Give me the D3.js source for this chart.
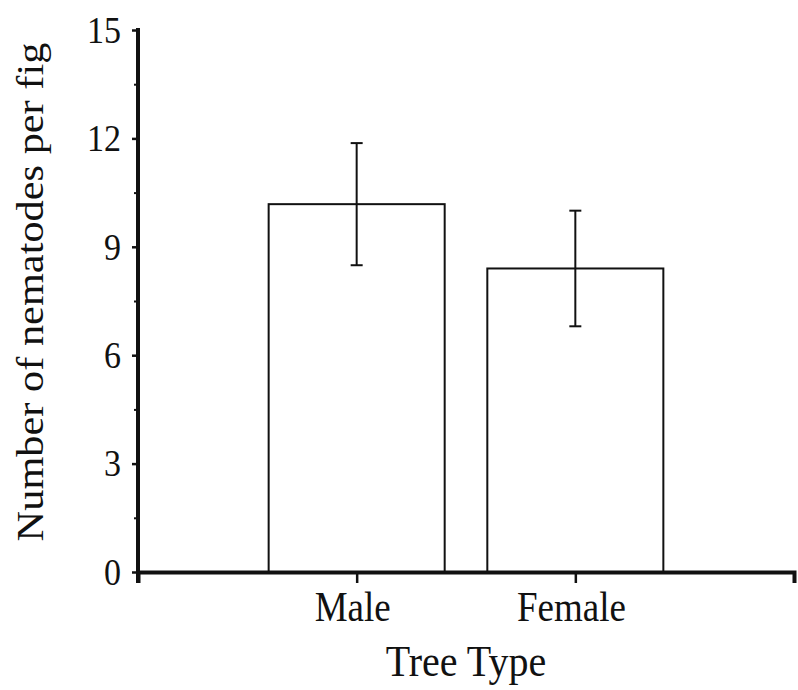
<!DOCTYPE html>
<html>
<head>
<meta charset="utf-8">
<script src="https://cdn.jsdelivr.net/npm/d3@7"></script>
<style>
  html, body { margin: 0; padding: 0; background: #fff; }
  svg { display: block; }
  text { font-family: "Liberation Serif", "Times New Roman", serif; fill: #111; }
</style>
</head>
<body>
<svg id="chart" width="798" height="690"></svg>
<script>
// ---- data ----
const categories = ["Male", "Female"];
const means = [10.18, 8.40];
const errors = [1.69, 1.60];
const yTicks = [0, 3, 6, 9, 12, 15];
const yMinorTicks = [1.5, 4.5, 7.5, 10.5, 13.5];
const xTitle = "Tree Type";
const yTitle = "Number of nematodes per fig";

const svg = d3.select("#chart");
const mLeft = 138, mRight = 794, mTop = 30, mBottom = 572;
const stretch = 1.13;

const x = d3.scalePoint().domain(categories).range([mLeft, mRight]).padding(1);
const y = d3.scaleLinear().domain([0, 15]).range([mBottom, mTop]);
const barW = (x.step()) * 0.805;

const data = categories.map((c, i) => ({ cat: c, mean: means[i], err: errors[i] }));

// bars
svg.append("g").selectAll("rect").data(data).join("rect")
  .attr("x", d => x(d.cat) - barW / 2)
  .attr("y", d => y(d.mean))
  .attr("width", barW)
  .attr("height", d => y(0) - y(d.mean))
  .attr("fill", "#fff")
  .attr("stroke", "#111")
  .attr("stroke-width", 2);

// error bars
const eb = svg.append("g").attr("stroke", "#111").attr("stroke-width", 2);
eb.selectAll("line.v").data(data).join("line").attr("class", "v")
  .attr("x1", d => x(d.cat)).attr("x2", d => x(d.cat))
  .attr("y1", d => y(d.mean + d.err)).attr("y2", d => y(d.mean - d.err));
eb.selectAll("line.t").data(data).join("line").attr("class", "t")
  .attr("x1", d => x(d.cat) - 6).attr("x2", d => x(d.cat) + 6)
  .attr("y1", d => y(d.mean + d.err)).attr("y2", d => y(d.mean + d.err));
eb.selectAll("line.b").data(data).join("line").attr("class", "b")
  .attr("x1", d => x(d.cat) - 6).attr("x2", d => x(d.cat) + 6)
  .attr("y1", d => y(d.mean - d.err)).attr("y2", d => y(d.mean - d.err));

// y axis minor ticks
const yMinor = svg.append("g").attr("transform", `translate(${mLeft},0)`)
  .call(d3.axisLeft(y).tickValues(yMinorTicks).tickSize(4).tickFormat(""));
yMinor.select(".domain").remove();
yMinor.selectAll("line").attr("stroke", "#111").attr("stroke-width", 2);

// y axis
const yAxis = svg.append("g").attr("transform", `translate(${mLeft},0)`)
  .call(d3.axisLeft(y).tickValues(yTicks).tickSize(6).tickSizeOuter(0).tickPadding(11).tickFormat(d3.format("d")));
yAxis.select(".domain").attr("stroke", "#111").attr("stroke-width", 4)
  .attr("d", `M0,${mBottom + 11}V${mTop - 2}`);
yAxis.selectAll(".tick line").attr("stroke", "#111").attr("stroke-width", 2.5);
yAxis.selectAll(".tick text")
  .attr("font-size", 34)
  .attr("font-family", "Liberation Serif")
  .attr("fill", "#1a1a1a")
  .attr("transform", `scale(1,${stretch})`);

// x axis
const xAxis = svg.append("g").attr("transform", `translate(0,${mBottom})`)
  .call(d3.axisBottom(x).tickSize(11).tickSizeOuter(11).tickPadding(6));
xAxis.select(".domain").attr("stroke", "#111").attr("stroke-width", 4);
xAxis.selectAll(".tick line").attr("stroke", "#111").attr("stroke-width", 2.5);
xAxis.selectAll(".tick text")
  .attr("font-size", 37)
  .attr("font-family", "Liberation Serif")
  .attr("fill", "#1a1a1a")
  .attr("dx", "-0.12em")
  .attr("transform", `scale(1,${stretch})`);

// titles
svg.append("text")
  .attr("transform", `translate(${(mLeft + mRight) / 2},676) scale(1,${stretch})`)
  .attr("text-anchor", "middle")
  .attr("font-size", 40)
  .attr("fill", "#1a1a1a")
  .text(xTitle);

svg.append("text")
  .attr("transform", `translate(43,292) scale(1,${stretch}) rotate(-90)`)
  .attr("text-anchor", "middle")
  .attr("font-size", 37.5)
  .attr("fill", "#1a1a1a")
  .text(yTitle);
</script>
</body>
</html>
